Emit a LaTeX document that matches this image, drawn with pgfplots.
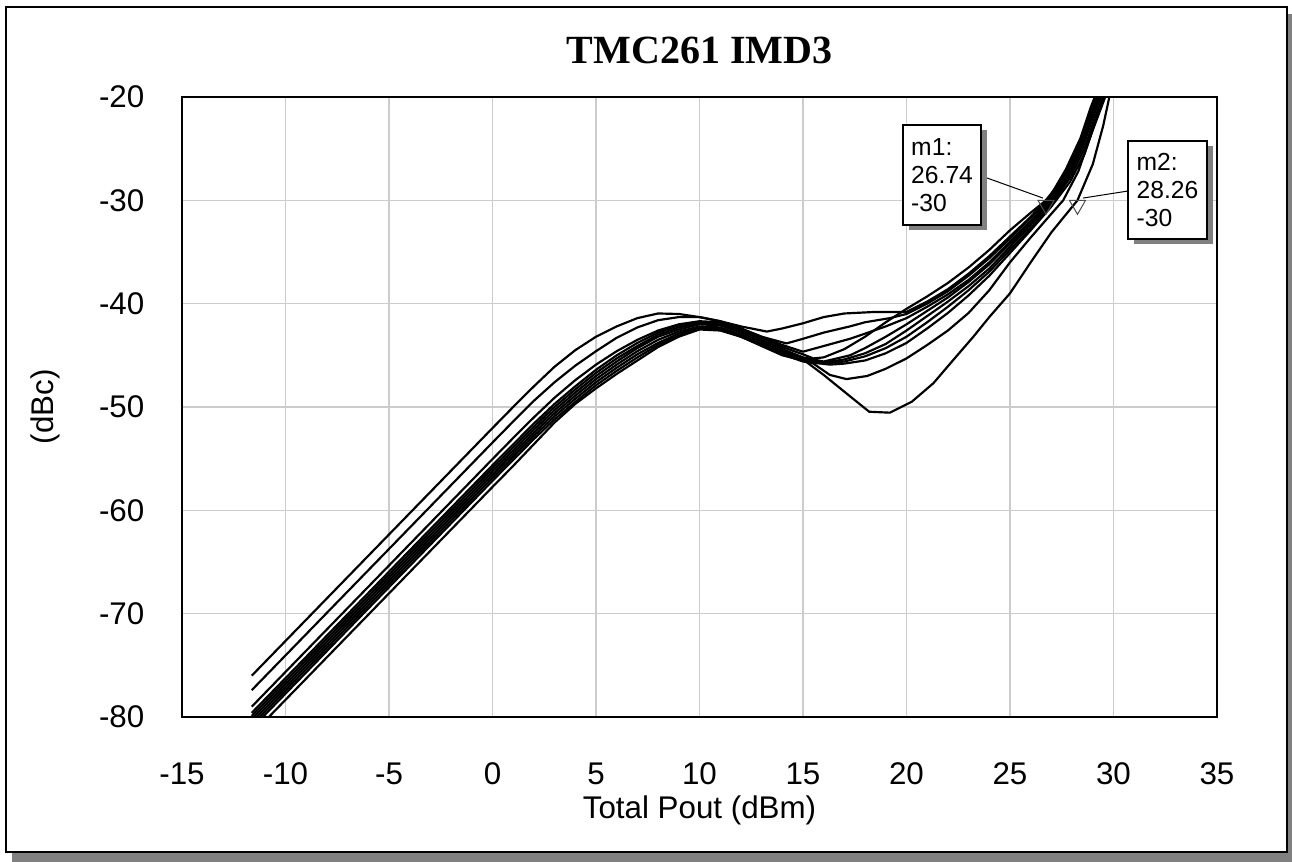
\documentclass[border=0pt]{standalone}
\usepackage{fontspec}
\setmainfont{Liberation Sans}
\newfontfamily\titlefont{Liberation Serif}
\usepackage{pgfplots}
\pgfplotsset{compat=1.18}
\usetikzlibrary{shadows}
\definecolor{gridgray}{RGB}{204,204,204}
\definecolor{shadowgray}{RGB}{128,128,128}
\pgfplotsset{imd/.style={black, line width=0.65pt, mark=none, line join=round}}

\begin{document}
\begin{tikzpicture}
\useasboundingbox (-54.6pt,-43.5pt) rectangle (333pt,215.1pt);
% page frame with shadow
\fill[shadowgray] (-51pt,-43.5pt) rectangle (333pt,211pt);
\draw[line width=0.45pt, fill=white] (-52.8pt,-40.5pt) rectangle (331.5pt,213pt);
\begin{axis}[
    at={(0,0)}, anchor=south west,
    scale only axis, width=310.5pt, height=186pt,
    xmin=-15, xmax=35, ymin=-80, ymax=-20,
    xtick={-15,-10,...,35}, ytick={-80,-70,...,-20},
    xticklabels={-15,-10,-5,0,5,10,15,20,25,30,35},
    yticklabels={-80,-70,-60,-50,-40,-30,-20},
    major tick length=0pt,
    tick label style={font=\fontsize{9.4}{11}\selectfont},
    xticklabel style={anchor=north, inner sep=0pt, yshift=-13.5pt},
    yticklabel style={anchor=east, inner sep=0pt, xshift=-11.1pt},
    grid=major,
    major grid style={gridgray, line width=0.4pt},
    axis line style={line width=0.45pt},
    title={\titlefont\bfseries TMC261 IMD3},
    title style={at={(axis description cs:0.5,1.0435)}, anchor=center, font=\fontsize{12}{14}\selectfont},
    xlabel={Total Pout (dBm)},
    ylabel={(dBc)},
    label style={font=\fontsize{9.4}{11}\selectfont},
    xlabel style={at={(axis description cs:0.5,-0.15)}, anchor=center},
    ylabel style={at={(axis description cs:-0.1324,0.5)}, anchor=center},
]
% P
\addplot[imd] coordinates {(-11.63,-76.0) (-8,-68.52) (-4,-60.28) (0,-52.04) (1,-50.0) (2,-48.0) (3,-46.1) (4,-44.5) (5,-43.2) (6,-42.2) (7,-41.4) (8,-40.95) (9,-41.0) (10,-41.3) (11,-41.7) (12,-42.2) (13.25,-42.7) (14,-42.4) (15,-41.9) (16,-41.3) (17,-40.95) (18.5,-40.8) (20,-40.8) (21,-39.8) (22,-38.6) (23,-37.1) (24,-35.4) (25,-33.5) (26,-31.6) (27,-29.4) (27.7,-27.0) (28.4,-24.0) (28.9,-21.0) (29.1,-20.0)};
% Q
\addplot[imd] coordinates {(-11.63,-77.4) (-8,-69.92) (-4,-61.68) (0,-53.44) (1,-51.4) (2,-49.4) (3,-47.6) (4,-46.0) (5,-44.6) (6,-43.3) (7,-42.3) (8,-41.6) (9,-41.3) (10,-41.3) (11,-41.7) (12,-42.4) (13,-43.2) (14.2,-43.85) (15,-43.4) (16,-42.8) (17.27,-42.2) (18,-41.8) (19.2,-41.4) (20,-41.0) (21,-40.0) (22,-38.8) (23,-37.3) (24,-35.6) (25,-33.7) (26,-31.7) (27,-29.6) (27.8,-27.0) (28.5,-24.0) (29.0,-21.0) (29.2,-20.0)};
% R
\addplot[imd] coordinates {(-11.63,-79.0) (-8,-71.52) (-4,-63.28) (0,-55.04) (1,-53.0) (2,-51.0) (3,-49.1) (4,-47.4) (5,-45.9) (6,-44.6) (7,-43.5) (8,-42.6) (9,-42.0) (10,-41.7) (11,-41.8) (12,-42.4) (13,-43.2) (14,-44.0) (15,-44.65) (16,-44.1) (17.27,-43.4) (18,-42.9) (19,-42.2) (20,-41.4) (21,-40.3) (22,-39.1) (23,-37.7) (24,-36.0) (25,-34.0) (26,-32.0) (27,-29.8) (27.8,-27.3) (28.5,-24.3) (29.0,-21.3) (29.3,-20.0)};
% S1
\addplot[imd] coordinates {(-11.63,-79.6) (-8,-72.12) (-4,-63.88) (0,-55.64) (2,-51.6) (3,-49.7) (4,-48.0) (5,-46.4) (6,-45.0) (7,-43.8) (8,-42.8) (9,-42.1) (10,-41.8) (11,-41.9) (12,-42.5) (13,-43.3) (14,-44.2) (15,-44.9) (15.5,-45.3) (16,-45.2) (17,-44.4) (18,-43.2) (19,-41.8) (20,-40.5) (21,-39.3) (22,-38.0) (23,-36.5) (24,-34.8) (25,-32.9) (26,-31.2) (26.74,-30.0) (27.5,-28.0) (28.2,-25.3) (28.8,-22.0) (29.1,-20.0)};
% S2
\addplot[imd] coordinates {(-11.63,-79.9) (-8,-72.42) (-4,-64.18) (0,-55.94) (2,-51.9) (3,-50.0) (4,-48.3) (5,-46.7) (6,-45.3) (7,-44.1) (8,-43.0) (9,-42.3) (10,-41.9) (11,-42.0) (12,-42.6) (13,-43.5) (14,-44.4) (15,-45.2) (16,-45.6) (17.27,-45.0) (18,-44.3) (19,-43.2) (20,-42.0) (21,-40.7) (22,-39.4) (23,-37.9) (24,-36.2) (25,-34.2) (26,-32.2) (27,-30.0) (27.8,-27.5) (28.5,-24.6) (29.0,-21.6) (29.35,-20.0)};
% S3
\addplot[imd] coordinates {(-11.63,-80.2) (-8,-72.72) (-4,-64.48) (0,-56.24) (2,-52.2) (3,-50.3) (4,-48.6) (5,-47.0) (6,-45.6) (7,-44.3) (8,-43.2) (9,-42.5) (10,-42.0) (11,-42.1) (12,-42.8) (13,-43.7) (14,-44.6) (15,-45.3) (16,-45.7) (17,-45.4) (18,-44.8) (19,-43.9) (20,-42.6) (21,-41.2) (22,-39.8) (23,-38.3) (24,-36.6) (25,-34.5) (26,-32.4) (27,-30.2) (27.8,-27.8) (28.5,-25.0) (29.0,-22.0) (29.4,-20.0)};
% S4
\addplot[imd] coordinates {(-11.63,-80.5) (-8,-73.02) (-4,-64.78) (0,-56.54) (2,-52.5) (3,-50.6) (4,-48.9) (5,-47.3) (6,-45.9) (7,-44.6) (8,-43.5) (9,-42.7) (10,-42.2) (11,-42.3) (12,-43.0) (13,-43.9) (14,-44.8) (15,-45.5) (16,-45.8) (17,-45.6) (18,-45.1) (19,-44.3) (20,-43.2) (21,-41.8) (22,-40.3) (23,-38.7) (24,-36.9) (25,-34.8) (26,-32.7) (27,-30.4) (27.9,-27.8) (28.6,-25.0) (29.1,-22.0) (29.5,-20.0)};
% S5
\addplot[imd] coordinates {(-11.63,-80.8) (-8,-73.32) (-4,-65.08) (0,-56.84) (2,-52.8) (3,-50.9) (4,-49.2) (5,-47.6) (6,-46.2) (7,-44.9) (8,-43.8) (9,-42.9) (10,-42.3) (11,-42.4) (12,-43.1) (13,-44.0) (14,-44.9) (15,-45.6) (16.3,-45.9) (17,-45.8) (18,-45.5) (19,-44.8) (20,-43.8) (21,-42.4) (22,-40.9) (23,-39.2) (24,-37.3) (25,-35.1) (26,-32.9) (27,-30.6) (27.9,-28.2) (28.6,-25.5) (29.1,-22.5) (29.55,-20.0)};
% T
\addplot[imd] coordinates {(-11.63,-81.1) (-8,-73.62) (-4,-65.38) (0,-57.14) (2,-53.1) (3,-51.2) (4,-49.5) (5,-47.9) (6,-46.5) (7,-45.2) (8,-44.0) (9,-43.1) (10,-42.4) (11,-42.5) (12,-43.2) (13,-44.1) (14,-45.0) (15,-45.5) (15.5,-45.8) (16.3,-46.9) (17.1,-47.3) (18.1,-47.0) (19,-46.3) (20,-45.3) (21,-44.0) (22,-42.6) (23,-40.9) (24,-38.7) (25,-36.0) (26,-33.6) (27,-31.3) (27.57,-30.0) (28.3,-27.2) (29,-23.2) (29.6,-20.0)};
% U
\addplot[imd] coordinates {(-11.63,-81.7) (-8,-74.22) (-4,-65.98) (0,-57.74) (1,-55.7) (2,-53.6) (3,-51.5) (4,-49.7) (5,-48.2) (6,-46.8) (7,-45.5) (8,-44.2) (9,-43.2) (10,-42.5) (11,-42.6) (12,-43.2) (13,-44.0) (14,-44.8) (15,-45.4) (16,-46.9) (17.2,-48.85) (18.2,-50.46) (19.2,-50.55) (20.25,-49.5) (21.3,-47.7) (22.26,-45.45) (23.23,-43.2) (24,-41.3) (25,-39.0) (26,-36.0) (27,-33.1) (28.26,-30.0) (29,-26.5) (29.5,-22.8) (29.8,-20.0)};
% markers
\addplot[only marks, mark=triangle, mark size=2.8pt,
    mark options={draw=black!70, line width=0.3pt, yshift=-1.4pt, rotate=180}]
    coordinates {(26.74,-30) (28.26,-30)};
\draw[line width=0.3pt] (axis cs:23.89,-27.84) -- (axis cs:26.59,-29.78);
\draw[line width=0.3pt] (axis cs:28.53,-29.78) -- (axis cs:30.70,-29.1);
\node[draw, fill=white, line width=0.4pt,
    drop shadow={shadow xshift=1.8pt, shadow yshift=-1.6pt, fill=shadowgray, opacity=1},
    minimum width=23.4pt, minimum height=30pt, align=left, inner sep=2pt,
    font=\fontsize{7.4}{8.5}\selectfont] at (axis cs:21.72,-27.55) {m1:\\26.74\\-30};
\node[draw, fill=white, line width=0.4pt,
    drop shadow={shadow xshift=1.8pt, shadow yshift=-1.6pt, fill=shadowgray, opacity=1},
    minimum width=23.7pt, minimum height=29.4pt, align=left, inner sep=2pt,
    font=\fontsize{7.4}{8.5}\selectfont] at (axis cs:32.61,-29.0) {m2:\\28.26\\-30};
\end{axis}
\end{tikzpicture}
\end{document}
